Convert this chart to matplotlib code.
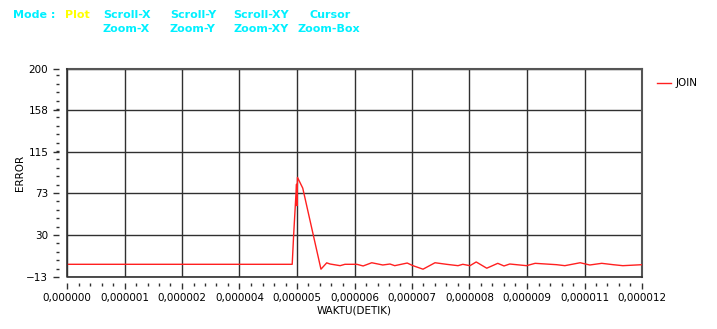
import numpy as np
import matplotlib
matplotlib.use("Agg")
import matplotlib.pyplot as plt
from matplotlib.ticker import FixedLocator, AutoMinorLocator

# time in microseconds, error values
time_us = [0.0, 4.70, 4.73, 4.77, 4.79, 4.80, 4.81, 4.92, 5.30, 5.42,
           5.49, 5.70, 5.80, 6.05, 6.18, 6.36, 6.59, 6.74, 6.84, 7.10,
           7.22, 7.43, 7.68, 7.92, 8.16, 8.26, 8.41, 8.54, 8.76, 8.99,
           9.12, 9.24, 9.59, 9.77, 10.22, 10.39, 10.71, 10.91, 11.16, 11.40,
           11.60, 12.0]
error = [0.0, 0.0, 30, 65, 82, 60, 89, 78, -5, 1.5,
         0.3, -1.4, 0.0, 0.0, -1.7, 1.6, -0.7, 0.3, -1.4, 1.3,
         -1.4, -5.0, 1.6, 0.0, -1.4, 0.0, -1.4, 2.4, -4.0, 1.0,
         -1.7, 0.3, -1.4, 1.0, -0.4, -1.4, 1.6, -0.7, 1.0, -0.4,
         -1.4, -0.4]

y_ticks = [-13, 30, 73, 115, 158, 200]
x_ticks_us = [0, 1.2, 2.4, 3.6, 4.8, 6.0, 7.2, 8.4, 9.6, 10.8, 12.0]
x_labels = ["0,000000", "0,000001", "0,000002", "0,000004", "0,000005",
            "0,000006", "0,000007", "0,000008", "0,000009", "0,000011",
            "0,000012"]

W, H = 717, 329
fig = plt.figure(figsize=(W / 100, H / 100), dpi=100)
ax = fig.add_axes([67 / W, 1 - 277 / H, (642 - 67) / W, (277 - 69) / H])

t = np.array(time_us) * 1e-6
ax.plot(t, error, color="#ff2020", linewidth=1.0, label="JOIN", zorder=3)

ax.set_xlim(0, 12e-6)
ax.set_ylim(-13, 200)
ax.yaxis.set_major_locator(FixedLocator(y_ticks))
ax.xaxis.set_major_locator(FixedLocator([v * 1e-6 for v in x_ticks_us]))
ax.set_xticklabels(x_labels)
ax.yaxis.set_minor_locator(AutoMinorLocator(5))
ax.xaxis.set_minor_locator(AutoMinorLocator(5))

ax.grid(True, which="major", color="#303030", linewidth=1.0)

# ticks sit a few pixels away from the frame, so offset the spines
for side in ["left", "bottom"]:
    ax.spines[side].set_visible(False)
ax.spines["left"].set_position(("outward", 6))
ax.spines["bottom"].set_position(("outward", 4))
for side in ["top", "right"]:
    ax.spines[side].set_color("#555555")
    ax.spines[side].set_linewidth(1.5)
ax.plot([0, 0, 1], [1, 0, 0], transform=ax.transAxes, color="#303030",
        linewidth=1.2, clip_on=False, zorder=4)

ax.tick_params(which="major", length=4.5, width=1, color="#303030",
               labelsize=7.5, pad=3)
ax.tick_params(which="minor", length=2, width=1, color="#303030")

ax.set_ylabel("ERROR", fontsize=7.5, labelpad=1)
ax.set_xlabel("WAKTU(DETIK)", fontsize=7.5, labelpad=2)

ax.legend(loc="upper left", bbox_to_anchor=(1.01, 1.0), frameon=False,
          fontsize=7.5, handlelength=1.3, handletextpad=0.5)

# toolbar text along the top
cyan = "#00f0ff"
row1 = 1 - 15.5 / H
row2 = 1 - 29.5 / H
items = [("Mode :", 13, row1, cyan), ("Plot", 65, row1, "#ffff00"),
         ("Scroll-X", 103, row1, cyan), ("Scroll-Y", 170, row1, cyan),
         ("Scroll-XY", 233, row1, cyan), ("Cursor", 309, row1, cyan),
         ("Zoom-X", 103, row2, cyan), ("Zoom-Y", 170, row2, cyan),
         ("Zoom-XY", 233, row2, cyan), ("Zoom-Box", 297, row2, cyan)]
for text, x, y, c in items:
    fig.text(x / W, y, text, color=c, fontsize=8, fontweight="bold",
             ha="left", va="center")

fig.savefig("out.png", dpi=100)
